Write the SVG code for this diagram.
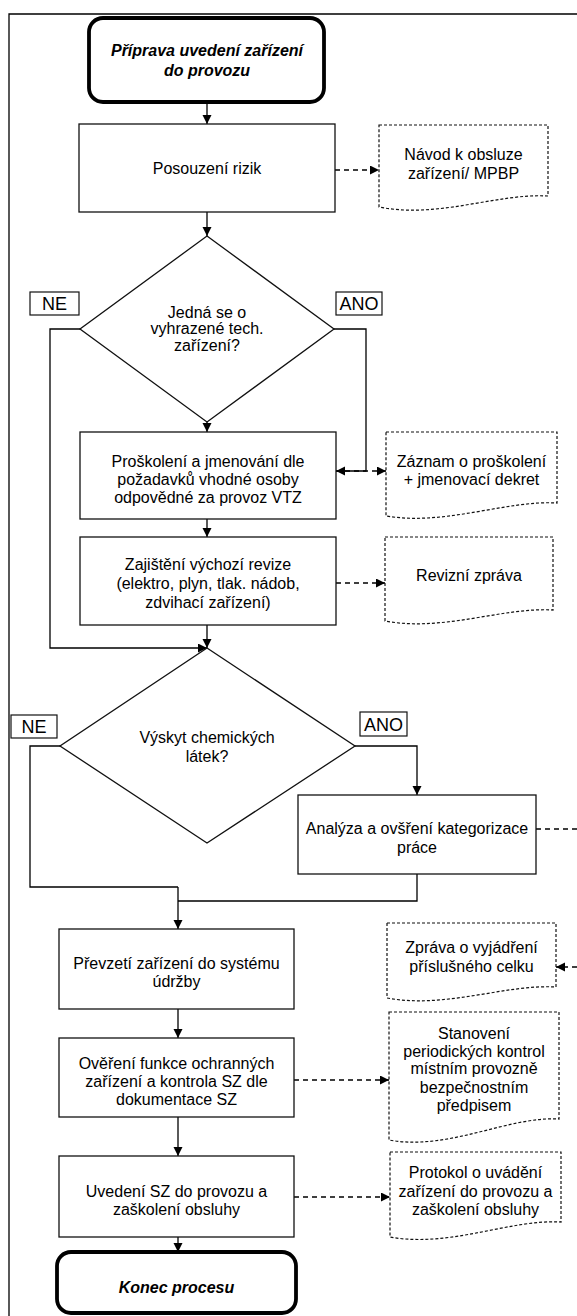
<svg xmlns="http://www.w3.org/2000/svg" width="577" height="1316" viewBox="0 0 577 1316">
<style>
.box{fill:#fff;stroke:#111;stroke-width:1.3}
.term{fill:#fff;stroke:#000;stroke-width:3.8}
.doc{fill:#fff;stroke:#111;stroke-width:1.2;stroke-dasharray:3,2}
.lbl{fill:#fff;stroke:#111;stroke-width:1.2}
.ln{fill:none;stroke:#000;stroke-width:1.3}
.dash{fill:none;stroke:#000;stroke-width:1.3;stroke-dasharray:5,4}
text{font-family:"Liberation Sans",Arial,sans-serif;font-size:16px;fill:#000;text-anchor:middle}
.bi{font-weight:bold;font-style:italic}
.big{font-size:18px}
</style>
<defs>
<marker id="ah" markerUnits="userSpaceOnUse" markerWidth="10" markerHeight="10" refX="9" refY="4.5" orient="auto">
<path d="M0,0 L9,4.5 L0,9 z" fill="#000"/>
</marker>
</defs>
<rect width="577" height="1316" fill="#fff"/>
<path class="ln" d="M9,1316 V14 H577"/>

<g id="connectors">
<path class="ln" d="M207,103 V124" marker-end="url(#ah)"/>
<path class="dash" d="M335,170 H379" marker-end="url(#ah)"/>
<path class="ln" d="M207,212 V236" marker-end="url(#ah)"/>
<path class="ln" d="M80,329 H50 V648 H207" marker-end="url(#ah)"/>
<path class="dash" d="M336,471 H386" marker-end="url(#ah)"/>
<path class="ln" d="M334,329 H366 V471 H336" marker-end="url(#ah)"/>
<path class="ln" d="M207,422 V432" marker-end="url(#ah)"/>
<path class="ln" d="M207,519 V537" marker-end="url(#ah)"/>
<path class="dash" d="M336,583 H385" marker-end="url(#ah)"/>
<path class="ln" d="M207,625 V648" marker-end="url(#ah)"/>
<path class="ln" d="M60,746 H30 V887 H178"/>
<path class="ln" d="M355,746 H417 V795" marker-end="url(#ah)"/>
<path class="dash" d="M536,829 H600 V967 H556" marker-end="url(#ah)"/>
<path class="ln" d="M417,874 V901 H178"/>
<path class="ln" d="M178,887 V929" marker-end="url(#ah)"/>
<path class="ln" d="M178,1009 V1038" marker-end="url(#ah)"/>
<path class="dash" d="M294,1080 H389" marker-end="url(#ah)"/>
<path class="ln" d="M178,1117 V1156" marker-end="url(#ah)"/>
<path class="dash" d="M294,1197 H390" marker-end="url(#ah)"/>
<path class="ln" d="M178,1237 V1252" marker-end="url(#ah)"/>
</g>

<g id="start">
<rect class="term" x="89" y="18" width="235" height="84" rx="14"/>
<text class="bi" x="207" y="55.5">Příprava uvedení zařízení</text>
<text class="bi" x="207" y="75.5">do provozu</text>
</g>

<g id="posouzeni">
<rect class="box" x="79" y="124" width="256" height="88"/>
<text x="207" y="174">Posouzení rizik</text>
</g>

<g id="doc-navod">
<path class="doc" d="M379,125 H548 V196 C497,193 438,219 379,207 Z"/>
<text x="463.5" y="159.5">Návod k obsluze</text>
<text x="463.5" y="178.5">zařízení/ MPBP</text>
</g>

<g id="dec-vtz">
<path class="box" d="M207,236 L334,329 L207,422 L80,329 Z"/>
<text x="207" y="317.5">Jedná se o</text>
<text x="207" y="334">vyhrazené tech.</text>
<text x="207" y="351">zařízení?</text>
</g>

<g id="lbl-ne1">
<rect class="lbl" x="30" y="292" width="49" height="23"/>
<text class="big" x="54.5" y="310">NE</text>
</g>
<g id="lbl-ano1">
<rect class="lbl" x="336" y="292" width="46" height="23"/>
<text class="big" x="359" y="310">ANO</text>
</g>

<g id="proskoleni">
<rect class="box" x="80" y="432" width="256" height="87"/>
<text x="208" y="467">Proškolení a jmenování dle</text>
<text x="208" y="485">požadavků vhodné osoby</text>
<text x="208" y="503">odpovědné za provoz VTZ</text>
</g>

<g id="doc-zaznam">
<path class="doc" d="M386,432 H557 V503 C506,500 446,526 386,516 Z"/>
<text x="471.5" y="467">Záznam o proškolení</text>
<text x="471.5" y="485">+ jmenovací dekret</text>
</g>

<g id="revize">
<rect class="box" x="80" y="537" width="256" height="88"/>
<text x="208" y="569.5">Zajištění výchozí revize</text>
<text x="208" y="588.5">(elektro, plyn, tlak. nádob,</text>
<text x="208" y="607.5">zdvihací zařízení)</text>
</g>

<g id="doc-revizni">
<path class="doc" d="M385,537 H553 V610 C502,607 444,632 385,621 Z"/>
<text x="469" y="580.5">Revizní zpráva</text>
</g>

<g id="dec-chem">
<path class="box" d="M207,648 L355,746 L207,843 L60,746 Z"/>
<text x="207" y="742.5">Výskyt chemických</text>
<text x="207" y="761.5">látek?</text>
</g>

<g id="lbl-ne2">
<rect class="lbl" x="11" y="715" width="46" height="23"/>
<text class="big" x="34" y="733">NE</text>
</g>
<g id="lbl-ano2">
<rect class="lbl" x="360" y="712" width="47" height="24"/>
<text class="big" x="383.5" y="731">ANO</text>
</g>

<g id="analyza">
<rect class="box" x="298" y="795" width="238" height="79"/>
<text x="417" y="833.5">Analýza a ovšření kategorizace</text>
<text x="417" y="852.5">práce</text>
</g>

<g id="doc-zprava">
<path class="doc" d="M387,923 H556 V987 C505,984 446,1009 387,998 Z"/>
<text x="471.5" y="952.5">Zpráva o vyjádření</text>
<text x="471.5" y="971.5">příslušného celku</text>
</g>

<g id="prevzeti">
<rect class="box" x="59" y="929" width="235" height="80"/>
<text x="176.5" y="968.5">Převzetí zařízení do systému</text>
<text x="176.5" y="987">údržby</text>
</g>

<g id="overeni">
<rect class="box" x="59" y="1038" width="235" height="79"/>
<text x="176.5" y="1068.5">Ověření funkce ochranných</text>
<text x="176.5" y="1086.5">zařízení a kontrola SZ dle</text>
<text x="176.5" y="1104.5">dokumentace SZ</text>
</g>

<g id="doc-stanoveni">
<path class="doc" d="M389,1012 H559 V1119 C508,1116 449,1151 389,1140 Z"/>
<text x="474" y="1038.5">Stanovení</text>
<text x="474" y="1056.5">periodických kontrol</text>
<text x="474" y="1074">místním provozně</text>
<text x="474" y="1092.5">bezpečnostním</text>
<text x="474" y="1110.5">předpisem</text>
</g>

<g id="uvedeni">
<rect class="box" x="59" y="1156" width="235" height="81"/>
<text x="176.5" y="1196.5">Uvedení SZ do provozu a</text>
<text x="176.5" y="1215">zaškolení obsluhy</text>
</g>

<g id="doc-protokol">
<path class="doc" d="M390,1152 H561 V1222 C510,1219 450,1248 390,1237 Z"/>
<text x="475.5" y="1177.5">Protokol o uvádění</text>
<text x="475.5" y="1196.5">zařízení do provozu a</text>
<text x="475.5" y="1214.5">zaškolení obsluhy</text>
</g>

<g id="end">
<rect class="term" x="57" y="1252" width="239" height="61" rx="14"/>
<text class="bi" x="176.5" y="1292.5">Konec procesu</text>
</g>
</svg>
